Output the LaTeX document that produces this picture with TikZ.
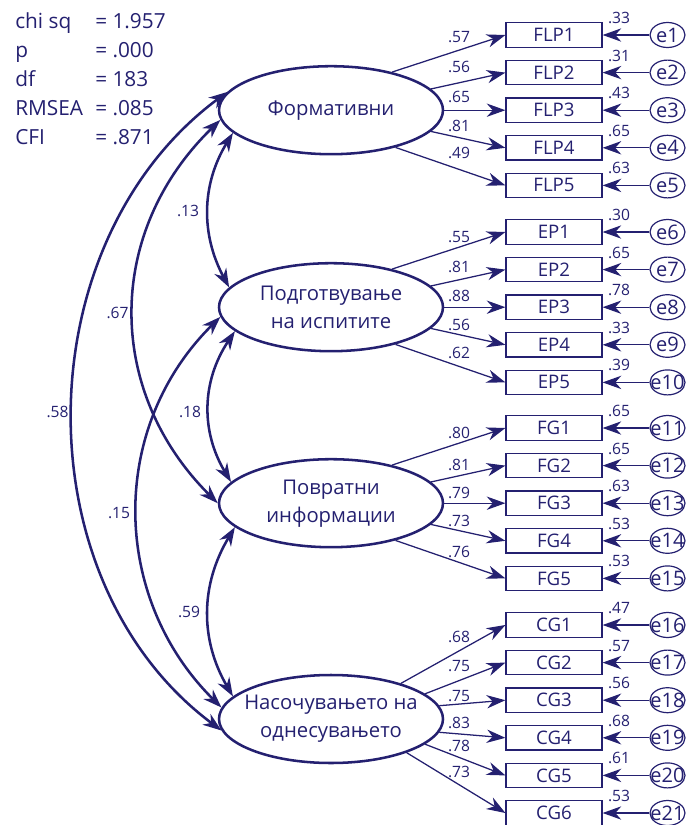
\documentclass[tikz,border=0pt]{standalone}
\usepackage{fontspec}
\setmainfont{Open Sans}
\usetikzlibrary{arrows.meta,shapes.geometric,calc}
\newdimen\pxu \pxu=0.75pt
\definecolor{navy}{RGB}{36,32,112}
\begin{document}
\begin{tikzpicture}[x=0.75pt, y=-0.75pt,
  every node/.style={text=navy},
  factor/.style={ellipse, draw=navy, line width=1.9pt, minimum width=224\pxu,
    minimum height=88\pxu, inner sep=0pt},
  factortext/.style={align=center, font=\fontsize{15.2}{21}\selectfont, text=navy, inner sep=0pt},
  ind/.style={rectangle, draw=navy, line width=0.9pt, minimum width=96\pxu,
    minimum height=24.5\pxu, inner sep=0pt, font=\fontsize{14}{16}\selectfont},
  err/.style={ellipse, draw=navy, line width=0.9pt, minimum width=35\pxu,
    minimum height=25\pxu, inner sep=0pt},
  errtext/.style={font=\fontsize{15}{16}\selectfont, text=navy, inner sep=0pt},
  num/.style={font=\fontsize{11.7}{14}\selectfont, inner sep=0pt},
  stat/.style={font=\fontsize{15.6}{20}\selectfont, anchor=base west, inner sep=0pt},
  load/.style={draw=navy, line width=0.95pt, -{Stealth[length=14pt, width=10pt, inset=4.5pt]}},
  cov/.style={draw=navy, line width=1.9pt,
    {Stealth[length=14pt, width=10pt, inset=4.5pt]}-{Stealth[length=14pt, width=10pt, inset=4.5pt]}},
]
\useasboundingbox (0,0) rectangle (687,825);

% fit statistics
\foreach \n/\v [count=\i] in {chi sq/1.957, p/.000, df/183, RMSEA/.085, CFI/.871}{
  \node[stat] (sn\i) at (15, {28.5+29*(\i-1)}) {\n};
  \node[stat] (sv\i) at (95, {28.5+29*(\i-1)}) {= \v};
}

% latent factors
\node[factor, label={[factortext]center:Формативни}] (f1) at (331,110.2) {};
\node[factor, label={[factortext]center:{Подготвување\\на испитите}}] (f2) at (331,307.2) {};
\node[factor, label={[factortext]center:{Повратни\\информации}}] (f3) at (331,503.2) {};
\node[factor, label={[factortext]center:{Насочувањето на\\однесувањето}}] (f4) at (331,719) {};

% indicators, error terms, loadings and squared multiple correlations
\foreach \k/\t/\y/\f/\a/\ld/\ly/\rs in {
  1/FLP1/35/f1/32/.57/37/.33,
  2/FLP2/72.6/f1/12/.56/67/.31,
  3/FLP3/110.2/f1/0/.65/97/.43,
  4/FLP4/147.8/f1/-12/.81/126/.65,
  5/FLP5/185.4/f1/-30/.49/153/.63,
  6/EP1/232/f2/32/.55/237/.30,
  7/EP2/269.6/f2/12/.81/267/.65,
  8/EP3/307.2/f2/0/.88/296/.78,
  9/EP4/344.8/f2/-12/.56/325/.33,
  10/EP5/382.4/f2/-30/.62/353/.39,
  11/FG1/428/f3/32/.80/433/.65,
  12/FG2/465.6/f3/12/.81/465/.65,
  13/FG3/503.2/f3/0/.79/493/.63,
  14/FG4/540.8/f3/-12/.73/521/.53,
  15/FG5/578.4/f3/-30/.76/552/.53,
  16/CG1/625/f4/27/.68/637/.47,
  17/CG2/662.6/f4/15/.75/666/.57,
  18/CG3/700.2/f4/7/.75/696/.56,
  19/CG4/737.8/f4/-7/.83/723/.68,
  20/CG5/775.4/f4/-15/.78/746/.61,
  21/CG6/813/f4/-24/.73/772/.53}{
  \node[ind] (\t) at (554,\y) {\t};
  \node[err, label={[errtext]center:e\k}] (e\k) at (667.5,\y) {};
  \node[num] (r\k) at (619,\y-17) {\rs};
  \node[num] (l\k) at (459,\ly) {\ld};
  \draw[load] (\f.\a) -- (\t.west);
  \draw[load] (e\k.west) -- (\t.east);
}

% factor covariances
\draw[cov] (f1.193) .. controls (201,185) and (201,235) .. (f2.169);
\draw[cov] (f2.194) .. controls (201,382) and (201,432) .. (f3.168);
\draw[cov] (f3.194) .. controls (200,585) and (200,640) .. (f4.167);
\draw[cov] (f1.185) .. controls (105,232) and (105,391) .. (f3.180);
\draw[cov] (f2.185) .. controls (108,428) and (111,598) .. (f4.174);
\draw[cov] (f1.170) .. controls (25,242) and (20,580) .. (f4.186);

\node[num] (c13) at (188,211) {.13};
\node[num] (c18) at (190,412) {.18};
\node[num] (c59) at (189,612) {.59};
\node[num] (c67) at (117.5,313) {.67};
\node[num] (c15) at (119,513) {.15};
\node[num] (c58) at (57.5,412) {.58};
\end{tikzpicture}
\end{document}
